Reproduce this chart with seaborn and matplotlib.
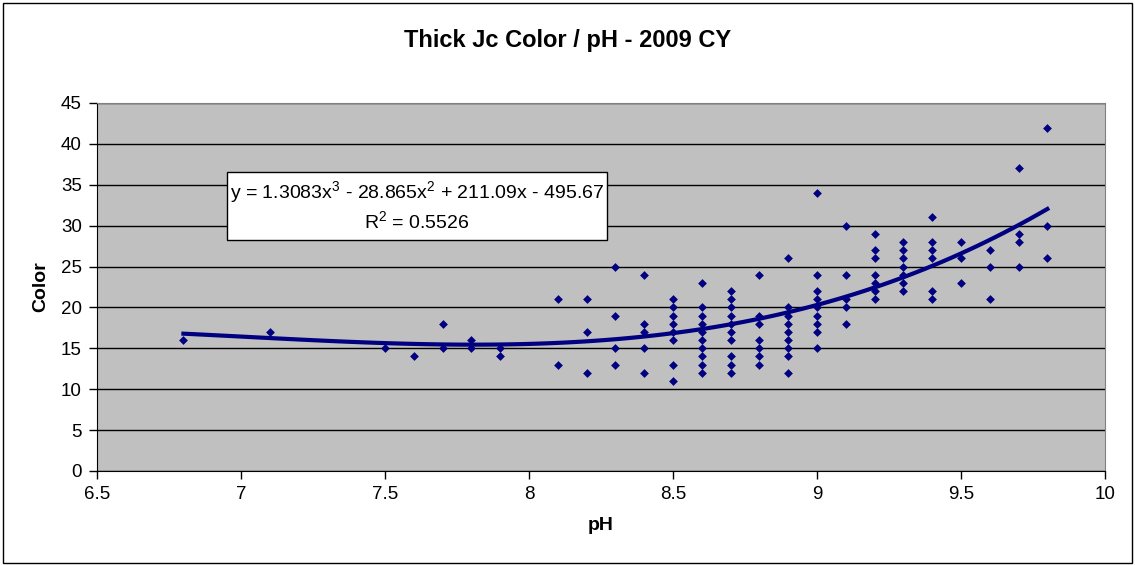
import numpy as np
import pandas as pd
import seaborn as sns
import matplotlib.pyplot as plt
from matplotlib.patches import Rectangle

# readings grouped by pH value
ph_levels = [6.8, 7.1, 7.5, 7.6, 7.7, 7.8, 7.9, 8.1, 8.2, 8.3, 8.4, 8.5,
             8.6, 8.7, 8.8, 8.9, 9.0, 9.1, 9.2, 9.3, 9.4, 9.5, 9.6, 9.7, 9.8]
color_by_ph = [
    [16],
    [17],
    [15],
    [14],
    [18, 15],
    [16, 15],
    [15, 14],
    [21, 13],
    [21, 17, 12],
    [25, 19, 15, 13],
    [24, 18, 17, 15, 12],
    [21, 20, 19, 18, 17, 16, 13, 11],
    [23, 20, 19, 18, 17, 16, 15, 14, 13, 12],
    [22, 21, 20, 19, 18, 17, 16, 14, 13, 12],
    [24, 19, 18, 16, 15, 14, 13],
    [26, 20, 19, 18, 17, 16, 15, 14, 12],
    [34, 24, 22, 21, 20, 19, 18, 17, 15],
    [30, 24, 21, 20, 18],
    [29, 27, 26, 24, 23, 22, 21],
    [28, 27, 26, 25, 24, 23, 22],
    [31, 28, 27, 26, 22, 21],
    [28, 26, 23],
    [27, 25, 21],
    [37, 29, 28, 25],
    [42, 30, 26],
]
eq_text = "y = 1.3083x$^3$ - 28.865x$^2$ + 211.09x - 495.67"
r2_text = "R$^2$ = 0.5526"

ph = [p for p, vals in zip(ph_levels, color_by_ph) for _ in vals]
color = [v for vals in color_by_ph for v in vals]
df = pd.DataFrame({'pH': ph, 'Color': color})

plt.rcParams['font.family'] = ['Liberation Sans', 'DejaVu Sans']
plt.rcParams['mathtext.fontset'] = 'custom'
plt.rcParams['mathtext.rm'] = 'Liberation Sans'
navy = '#000080'

fig = plt.figure(figsize=(11.35, 5.65), dpi=100)
fig.patches.append(Rectangle((0.003, 0.003), 0.994, 0.992, transform=fig.transFigure,
                             fill=False, edgecolor='black', linewidth=1))
ax = fig.add_axes([0.0855, 0.1664, 0.888, 0.6513])
ax.set_facecolor('#C0C0C0')

sns.scatterplot(data=df, x='pH', y='Color', marker='D', s=20, color=navy,
                edgecolor=navy, linewidth=0, ax=ax, zorder=3)
sns.regplot(data=df, x='pH', y='Color', order=3, ci=None, scatter=False,
            line_kws={'color': navy, 'linewidth': 3, 'zorder': 4}, ax=ax)

ax.set_xlim(6.5, 10)
ax.set_ylim(0, 45)
ax.set_xticks(np.arange(6.5, 10.01, 0.5))
ax.set_xticklabels(['6.5', '7', '7.5', '8', '8.5', '9', '9.5', '10'])
ax.set_yticks(range(0, 46, 5))
ax.yaxis.grid(True, color='black', linewidth=1)
ax.set_axisbelow(True)
ax.tick_params(axis='both', labelsize=13.5, direction='out', length=6, width=1, pad=5)
for side in ['top', 'right']:
    ax.spines[side].set_color('#808080')
for side in ['left', 'bottom']:
    ax.spines[side].set_color('black')

ax.set_xlabel('pH', fontsize=14, fontweight='bold', labelpad=10)
ax.set_ylabel('Color', fontsize=14, fontweight='bold', labelpad=8)
fig.text(0.5, 0.928, 'Thick Jc Color / pH - 2009 CY', ha='center', va='center',
         fontsize=17, fontweight='bold')

ax.add_patch(Rectangle((0.129, 0.628), 0.377, 0.1845, transform=ax.transAxes,
                       facecolor='white', edgecolor='black', linewidth=1, zorder=5))
ax.text(0.3175, 0.755, eq_text, transform=ax.transAxes, ha='center', va='center',
        fontsize=14, zorder=6)
ax.text(0.3175, 0.678, r2_text, transform=ax.transAxes, ha='center', va='center',
        fontsize=14, zorder=6)

fig.savefig('out.png', dpi=100)
